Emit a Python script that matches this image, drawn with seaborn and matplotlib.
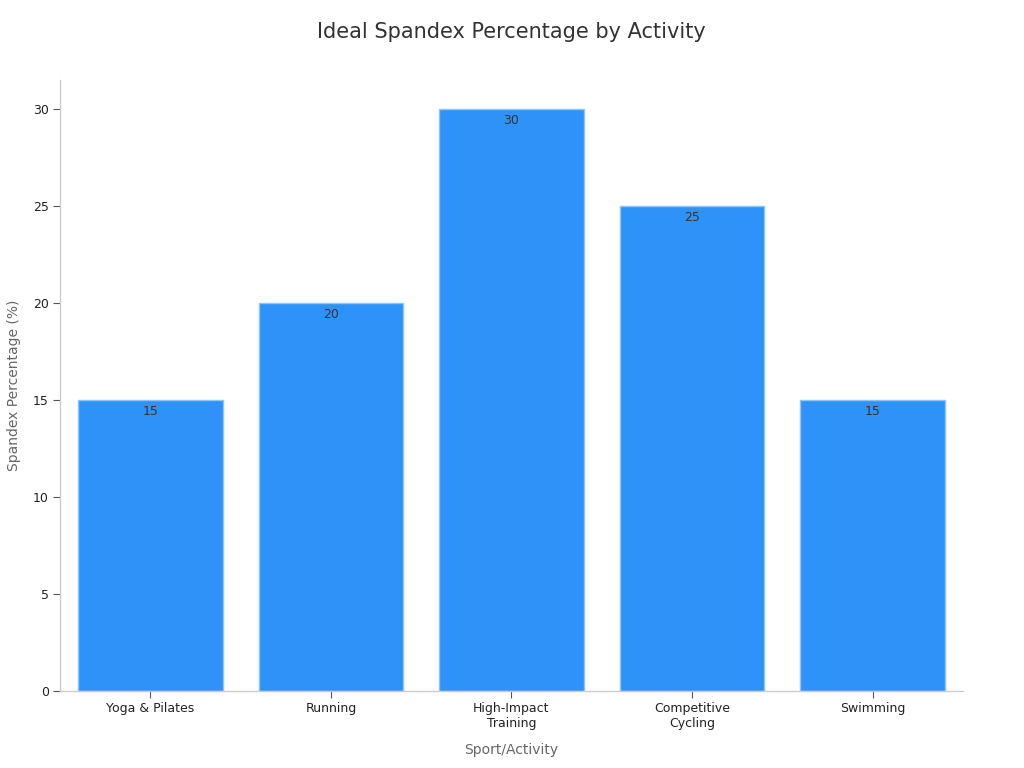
import matplotlib
matplotlib.use("Agg")
import matplotlib.pyplot as plt
import seaborn as sns
import pandas as pd

activities = ["Yoga & Pilates", "Running", "High-Impact\nTraining", "Competitive\nCycling", "Swimming"]
spandex_pct = [15, 20, 30, 25, 15]

df = pd.DataFrame({"activity": activities, "pct": spandex_pct})

sns.set_style("white")
plt.rcParams["font.family"] = ["DejaVu Sans"]

fig = plt.figure(figsize=(10.24, 7.68), dpi=100)
ax = fig.add_axes([0.0586, 0.1003, 0.8818, 0.7956])

sns.barplot(data=df, x="activity", y="pct", color="#2E93F9", saturation=1,
            width=0.8, edgecolor="#8cc4fb", linewidth=1, ax=ax)

for c in ax.containers:
    ax.bar_label(c, labels=[str(v) for v in spandex_pct], padding=-13,
                 fontsize=9, color="#333333")

ax.set_xlim(-0.5, 4.5)
ax.set_ylim(0, 31.5)
ax.set_yticks([0, 5, 10, 15, 20, 25, 30])

ax.set_title("Ideal Spandex Percentage by Activity", fontsize=15, color="#333333", pad=30)
ax.set_xlabel("Sport/Activity", fontsize=10, color="#666666", labelpad=9)
ax.set_ylabel("Spandex Percentage (%)", fontsize=10, color="#666666", labelpad=9)

ax.tick_params(axis="both", bottom=True, left=True, labelsize=9, length=5, width=0.8,
               pad=3, colors="#555555", labelcolor="#222222")

sns.despine(ax=ax, top=True, right=True)
for s in ["left", "bottom"]:
    ax.spines[s].set_color("#cccccc")
    ax.spines[s].set_linewidth(1)

fig.savefig("out.png", dpi=100)
